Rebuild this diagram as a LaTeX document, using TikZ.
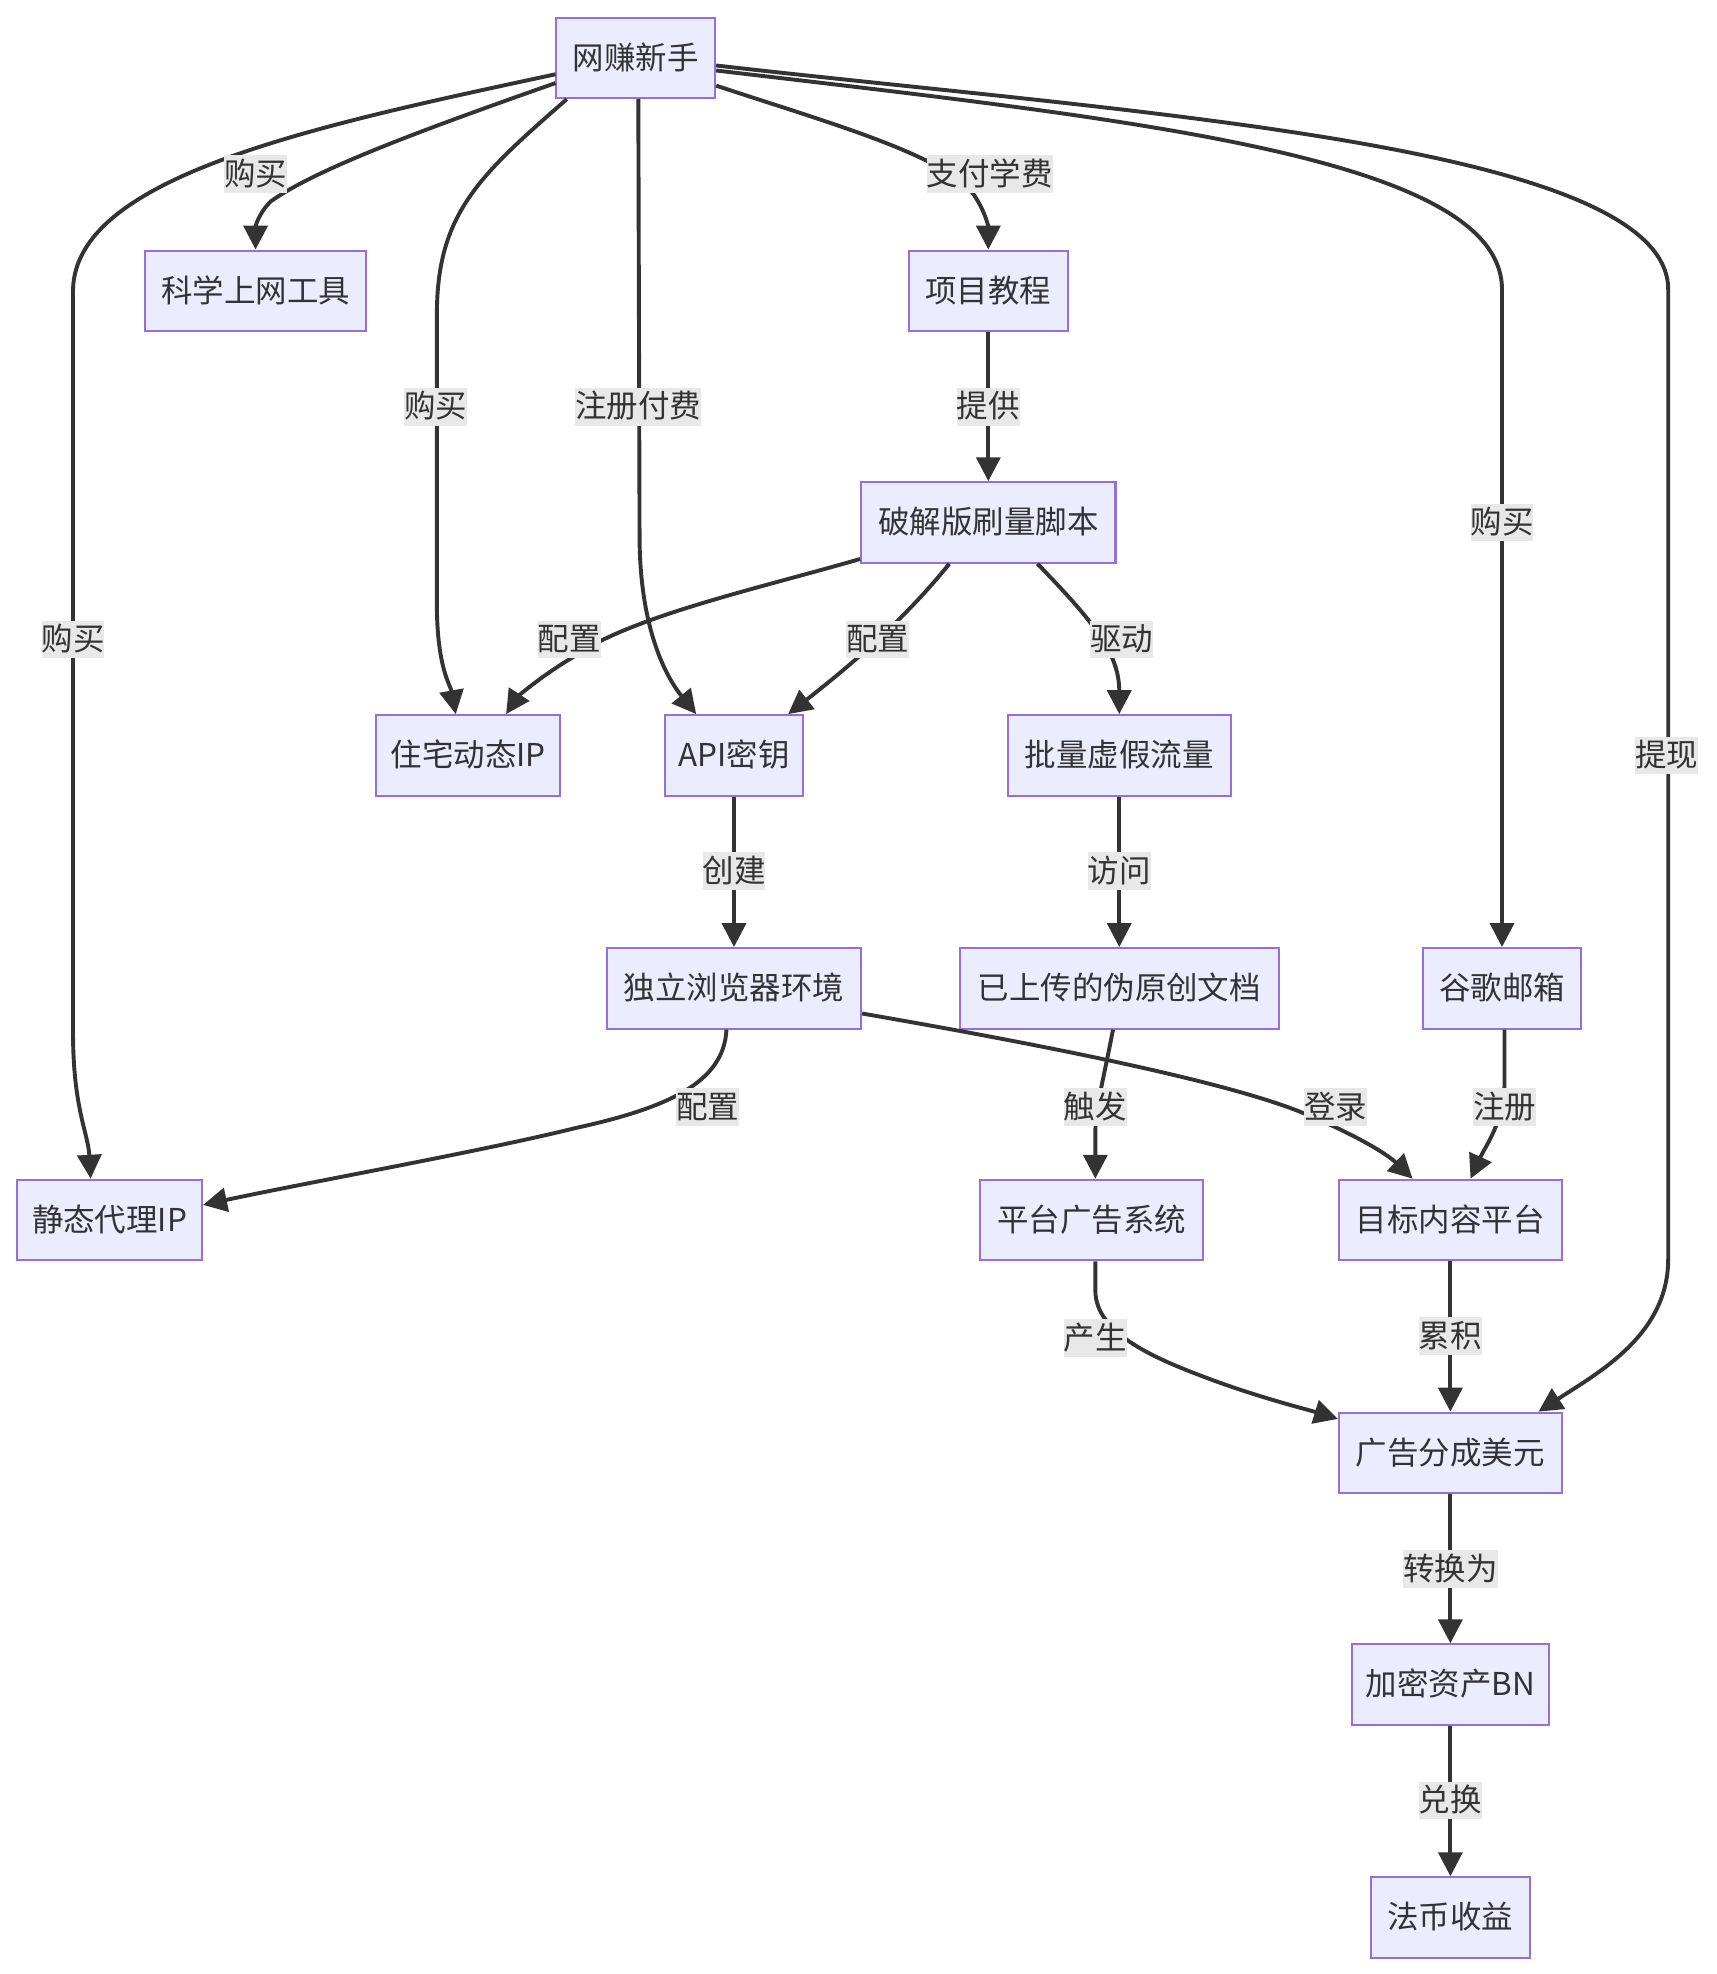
\documentclass[tikz,border=0pt]{standalone}
\usepackage{fontspec}
\setmainfont{Noto Sans CJK SC}
\usetikzlibrary{arrows.meta,calc}
\definecolor{nodefill}{HTML}{ECECFF}
\definecolor{nodeline}{HTML}{9370DB}
\definecolor{edgecol}{HTML}{333333}
\definecolor{labelbg}{HTML}{E8E8E8}
\tikzset{
  box/.style={draw=nodeline, fill=nodefill, line width=1.6pt, minimum height=64pt,
    inner sep=0pt, text=edgecol, font=\fontsize{25}{30}\selectfont,
    text height=21.5pt, text depth=3.5pt},
  elabel/.style={fill=labelbg, inner xsep=0pt, inner ysep=2.5pt, text=edgecol,
    font=\fontsize{25}{30}\selectfont, text height=21.5pt, text depth=3.5pt},
  edge/.style={draw=edgecol, line width=3.1pt, -{Triangle[length=19pt,width=19pt]}}
}
\begin{document}
\begin{tikzpicture}[x=1pt,y=-1pt]
\fill[white] (0,0) rectangle (1363.3,1567.9);
\useasboundingbox (0,0) rectangle (1363.3,1567.9);
% nodes
\node[box, minimum width=126pt] (A) at (505,46) {网赚新手};
\node[box, minimum width=176pt] (B) at (203,231) {科学上网工具};
\node[box, minimum width=126pt] (C) at (785,231) {项目教程};
\node[box, minimum width=202pt] (D) at (785,415) {破解版刷量脚本};
\node[box, minimum width=146pt] (E) at (372,600) {住宅动态IP};
\node[box, minimum width=110pt] (F) at (583,600) {API密钥};
\node[box, minimum width=177pt] (G) at (889,600) {批量虚假流量};
\node[box, minimum width=202pt] (H) at (583,785) {独立浏览器环境};
\node[box, minimum width=253pt] (I) at (889,785) {已上传的伪原创文档};
\node[box, minimum width=126pt] (J) at (1193,785) {谷歌邮箱};
\node[box, minimum width=147pt] (K) at (87,969) {静态代理IP};
\node[box, minimum width=177pt] (L) at (867,969) {平台广告系统};
\node[box, minimum width=177pt] (M) at (1152,969) {目标内容平台};
\node[box, minimum width=177pt] (N) at (1152,1154) {广告分成美元};
\node[box, minimum width=156pt] (O) at (1152,1338) {加密资产BN};
\node[box, minimum width=126pt] (P) at (1152,1523) {法币收益};
% edges
\draw[edge] ($(A.west)+(0,20)$) .. controls (330,105) and (250,135) .. (215,160)
   .. controls (205,170) and (203,180) .. (B.north);
\draw[edge] ($(A.west)+(0,13)$) .. controls (250,100) and (60,140) .. (58,230)
   -- (58,820) .. controls (58,880) and (70,900) .. ($(K.north)+(-15,0)$);
\draw[edge] ($(A.south west)+(9,0)$) .. controls (380,140) and (347,170) .. (347,250)
   -- (347,480) .. controls (347,530) and (358,545) .. ($(E.north)+(-10,0)$);
\draw[edge] ($(A.south)+(2,0)$) -- (508,430) .. controls (509,510) and (535,545) .. ($(F.north)+(-30,0)$);
\draw[edge] ($(A.east)+(0,22)$) .. controls (650,95) and (740,120) .. (770,150)
   .. controls (782,165) and (785,180) .. (C.north);
\draw[edge] ($(A.east)+(0,10)$) .. controls (900,95) and (1193,125) .. (1193,230) -- (J.north);
\draw[edge] ($(A.east)+(0,6)$) .. controls (900,90) and (1325,115) .. (1325,230)
   -- (1325,1000) .. controls (1325,1060) and (1270,1090) .. ($(N.north)+(70,0)$);
\draw[edge] (C.south) -- (D.north);
\draw[edge] ($(D.west)+(0,29)$) .. controls (600,468) and (500,490) .. (455,522)
   .. controls (425,540) and (410,555) .. ($(E.north)+(30,0)$);
\draw[edge] ($(D.south)+(-31,0)$) .. controls (720,490) and (680,525) .. ($(F.north)+(43,0)$);
\draw[edge] ($(D.south)+(39,0)$) .. controls (870,495) and (889,520) .. (G.north);
\draw[edge] (F.south) -- (H.north);
\draw[edge] (G.south) -- (I.north);
\draw[edge] ($(H.south)+(-6,0)$) .. controls (575,860) and (530,880) .. (457,896)
   .. controls (380,915) and (250,938) .. ($(K.east)+(0,-12)$);
\draw[edge] ($(H.east)+(0,20)$) .. controls (800,825) and (960,855) .. (1030,882)
   .. controls (1070,898) and (1100,915) .. ($(M.north)+(-30,0)$);
\draw[edge] ($(J.south)+(2,0)$) -- (1195,860) .. controls (1195,890) and (1180,910) .. ($(M.north)+(16,0)$);
\draw[edge] ($(I.south)+(-5,0)$) .. controls (876,860) and (870,880) .. (870,900) -- ($(L.north)+(3,0)$);
\draw[edge] ($(L.south)+(3,0)$) -- (870,1025) .. controls (870,1060) and (920,1080) .. (960,1095)
   .. controls (1000,1110) and (1040,1120) .. ($(N.west)+(0,-27)$);
\draw[edge] (M.south) -- (N.north);
\draw[edge] (N.south) -- (O.north);
\draw[edge] (O.south) -- (P.north);
% edge labels
\node[elabel] (l1) at (203,138) {购买};
\node[elabel] (l2) at (58,508) {购买};
\node[elabel] (l3) at (346,323) {购买};
\node[elabel] (l4) at (507,323) {注册付费};
\node[elabel] (l5) at (786,138) {支付学费};
\node[elabel] (l6) at (1193,415) {购买};
\node[elabel] (l7) at (1324,600) {提现};
\node[elabel] (l8) at (785,323) {提供};
\node[elabel] (l9) at (452,508) {配置};
\node[elabel] (l10) at (697,508) {配置};
\node[elabel] (l11) at (891,508) {驱动};
\node[elabel] (l12) at (583,692) {创建};
\node[elabel] (l13) at (889,692) {访问};
\node[elabel] (l14) at (562,879) {配置};
\node[elabel] (l15) at (1061,879) {登录};
\node[elabel] (l16) at (1195,879) {注册};
\node[elabel] (l17) at (870,879) {触发};
\node[elabel] (l18) at (870,1063) {产生};
\node[elabel] (l19) at (1152,1061) {累积};
\node[elabel] (l20) at (1152,1246) {转换为};
\node[elabel] (l21) at (1152,1430) {兑换};
\end{tikzpicture}
\end{document}
